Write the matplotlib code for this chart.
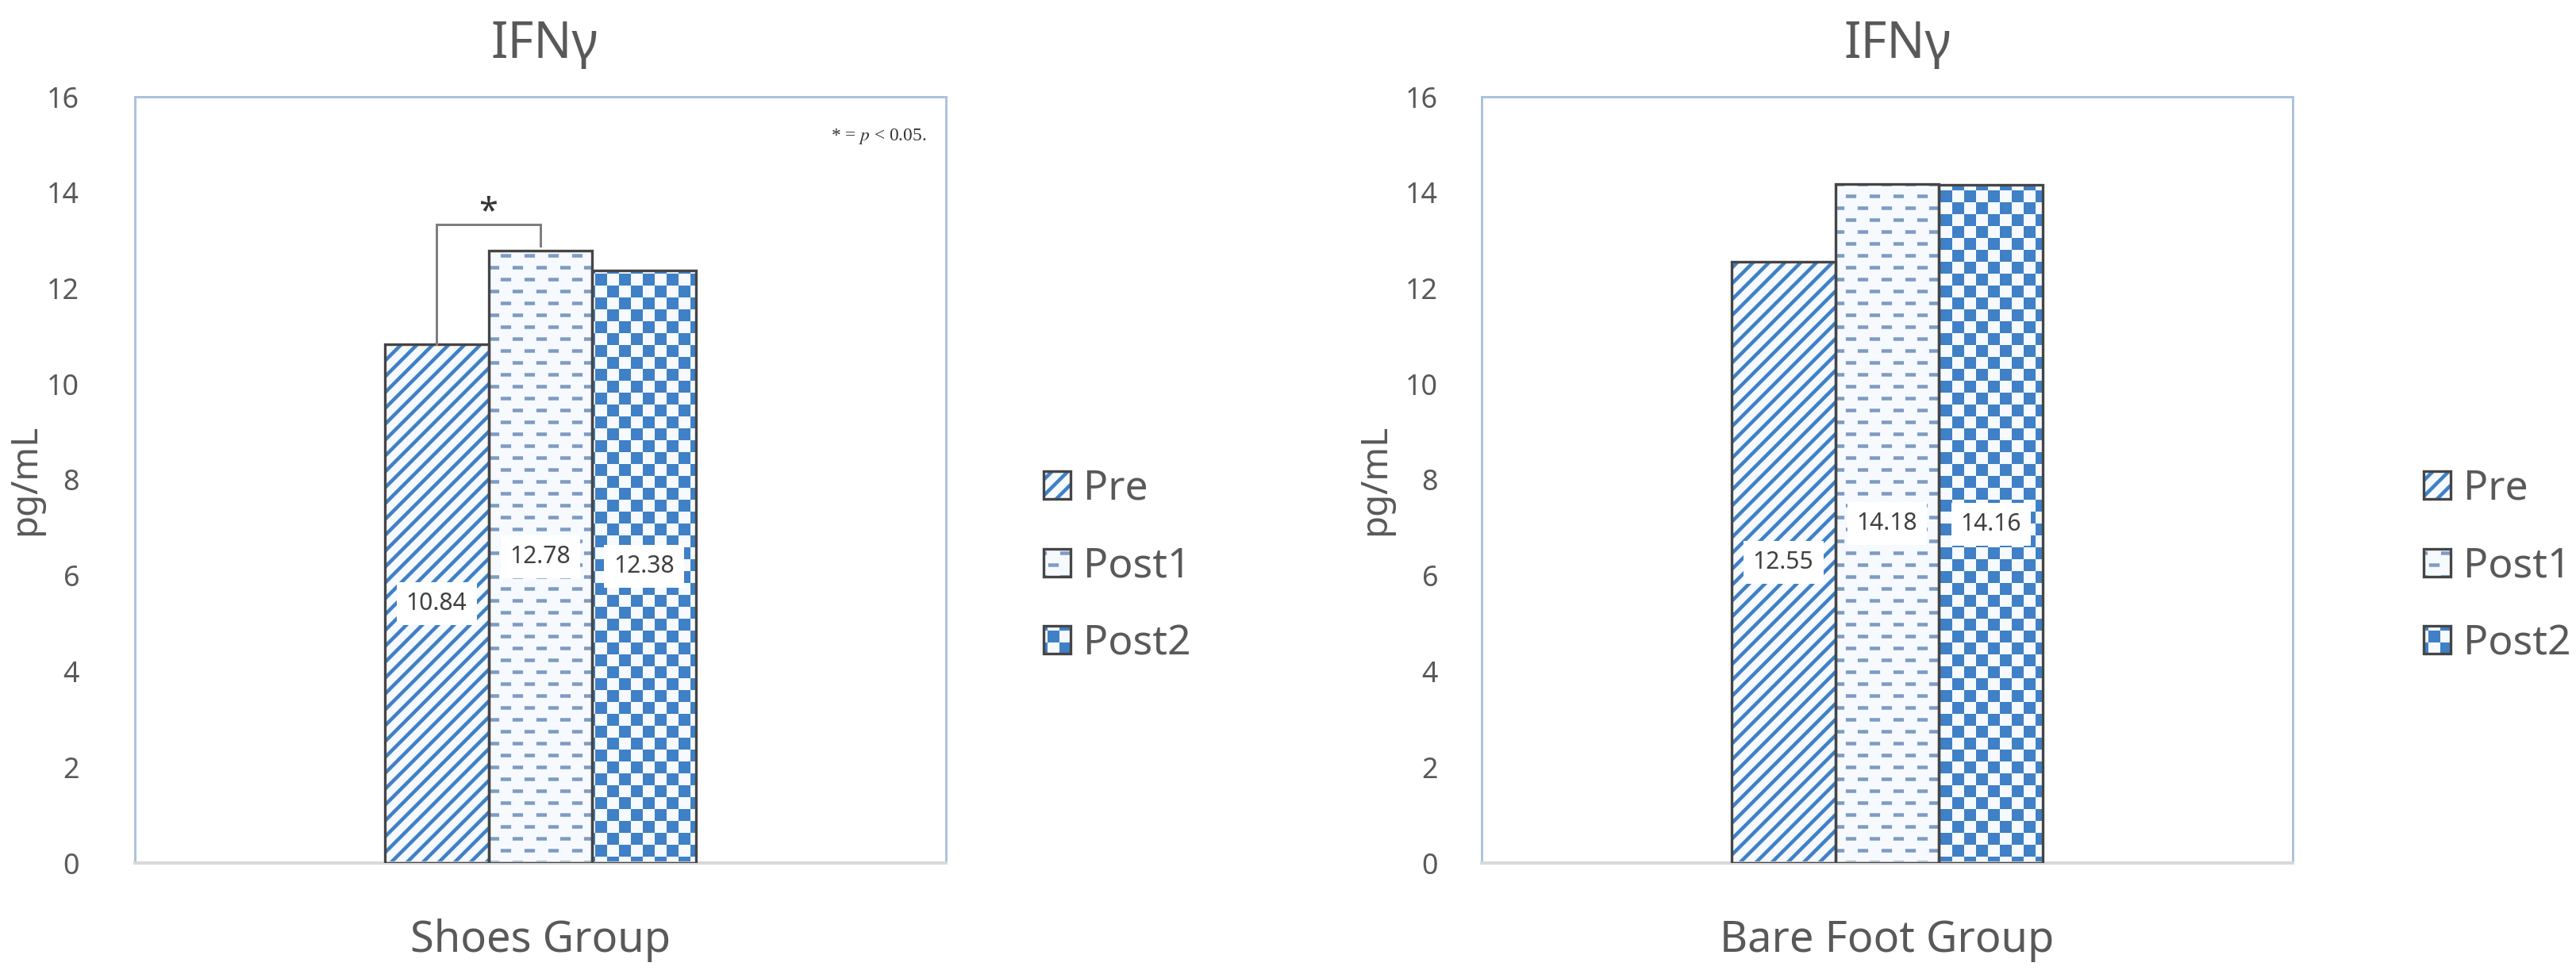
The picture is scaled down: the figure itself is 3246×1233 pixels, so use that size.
import warnings
import numpy as np
import matplotlib
matplotlib.use("Agg")
import matplotlib.pyplot as plt
from matplotlib import hatch as mhatch
from matplotlib.path import Path
from matplotlib.legend_handler import HandlerTuple

warnings.filterwarnings("ignore")

# values
series = ["Pre", "Post1", "Post2"]
groups = ["Shoes Group", "Bare Foot Group"]
shoes = [10.84, 12.78, 12.38]
bare_foot = [12.55, 14.18, 14.16]
yticks = [0, 2, 4, 6, 8, 10, 12, 14, 16]
title = "IFNγ"
ylabel = "pg/mL"
note = r"* = $p$ < 0.05."

W, H, DPI = 3246, 1233, 120
HATCH_LW = 2.7

plt.rcParams["font.family"] = ["Noto Sans", "DejaVu Sans"]
plt.rcParams["mathtext.fontset"] = "stix"
plt.rcParams["hatch.linewidth"] = HATCH_LW


# extra hatch patterns: denser diagonals ('n'), small checkerboard ('c'),
# staggered dashes ('d')
class StripeHatch(mhatch.HatchPatternBase):
    n = 6

    def __init__(self, hatch, density):
        self.on = "n" in hatch
        self.num_vertices = (2 * self.n + 1) * 2 if self.on else 0

    def set_vertices_and_codes(self, vertices, codes):
        c = np.arange(-self.n, self.n + 1) / self.n
        vertices[0::2, 0] = -0.1
        vertices[0::2, 1] = -0.1 - c
        vertices[1::2, 0] = 1.1
        vertices[1::2, 1] = 1.1 - c
        codes[0::2] = Path.MOVETO
        codes[1::2] = Path.LINETO


class CheckerHatch(mhatch.HatchPatternBase):
    n = 8

    def __init__(self, hatch, density):
        self.on = "c" in hatch
        self.num_vertices = (self.n * self.n // 2) * 5 if self.on else 0

    def set_vertices_and_codes(self, vertices, codes):
        s = 1.0 / self.n
        d = HATCH_LW / 144.0
        pts = []
        for i in range(self.n):
            for j in range(self.n):
                if (i + j) % 2 == 0:
                    x0, y0 = j * s + d, i * s + d
                    x1, y1 = (j + 1) * s - d, (i + 1) * s - d
                    pts += [(x0, y0), (x1, y0), (x1, y1), (x0, y1), (x0, y0)]
        vertices[:] = pts
        codes[:] = [Path.MOVETO, Path.LINETO, Path.LINETO, Path.LINETO,
                    Path.CLOSEPOLY] * (len(pts) // 5)


class DashHatch(mhatch.HatchPatternBase):
    rows, cols, dash = 8, 4, 0.11

    def __init__(self, hatch, density):
        self.on = "d" in hatch
        self.num_vertices = self.rows * self.cols * 2 if self.on else 0

    def set_vertices_and_codes(self, vertices, codes):
        half = (self.dash - HATCH_LW / 72.0) / 2
        pts = []
        for r in range(self.rows):
            y = (r + 0.5) / self.rows
            for c in range(self.cols):
                xc = (c + 0.25 + 0.5 * (r % 2)) / self.cols
                pts += [(xc - half, y), (xc + half, y)]
        vertices[:] = pts
        codes[:] = [Path.MOVETO, Path.LINETO] * (len(pts) // 2)


mhatch._hatch_types.extend([StripeHatch, CheckerHatch, DashHatch])

hatches = ["n", "d", "c"]
hatch_colors = ["#3f80c6", "#7f9bc2", "#3f80c6"]
face = "#f6faff"
edge = "#454545"
txt = "#595959"

fig = plt.figure(figsize=(W / DPI, H / DPI), dpi=DPI)

# left edge of axes, legend x, y-label x, tick pad, title x
panels = [
    (shoes, groups[0], 170, 1315, -0.112, 42, 0.505),
    (bare_foot, groups[1], 1867, 3054, -0.108, 33, 0.513),
]
width = 0.128
offsets = (np.arange(len(series)) - 1) * width

for p, (vals, group, left, leg_x, ylab_x, ypad, tx) in enumerate(panels):
    ax = fig.add_axes([left / W, 1 - 1088 / H, 1022 / W, 966 / H])
    handles = []
    for k in range(len(series)):
        hb = ax.bar(offsets[k], vals[k], width, color=face, edgecolor=hatch_colors[k],
                    hatch=hatches[k], linewidth=0, zorder=2)
        ob = ax.bar(offsets[k], vals[k], width, fill=False, edgecolor=edge,
                    linewidth=2.0, zorder=3)
        handles.append((hb.patches[0], ob.patches[0]))
        ax.text(offsets[k], vals[k] / 2, f"{vals[k]:.2f}", ha="center", va="center",
                fontsize=18, color="#404040", zorder=4,
                bbox=dict(boxstyle="square,pad=0.4", fc="white", ec="none"))

    ax.set_xlim(-0.5, 0.5)
    ax.set_ylim(0, 16)
    ax.set_yticks(yticks)
    ax.set_xticks([0])
    ax.set_xticklabels([group])
    ax.tick_params(axis="y", length=0, pad=ypad, labelsize=21.5, labelcolor=txt)
    ax.tick_params(axis="x", length=0, pad=42, labelsize=32.5, labelcolor=txt)
    for s in ["top", "left", "right"]:
        ax.spines[s].set_color("#adc2de")
        ax.spines[s].set_linewidth(1.8)
    ax.spines["bottom"].set_color("#d9d9d9")
    ax.spines["bottom"].set_linewidth(2.5)

    ax.set_title(title, fontsize=38, color=txt, pad=29.4, x=tx)
    ax.set_ylabel(ylabel, fontsize=27.5, color=txt)
    ax.yaxis.set_label_coords(ylab_x, 0.5)

    ax.legend(handles, series, handler_map={tuple: HandlerTuple(ndivide=1)},
              loc="center left", bbox_to_anchor=(leg_x / W, 1 - 714 / H),
              bbox_transform=fig.transFigure, frameon=False, fontsize=31,
              labelcolor=txt, borderpad=0, borderaxespad=0,
              handlelength=0.66, handleheight=0.66, handletextpad=0.3,
              labelspacing=0.9)

    if p == 0:
        # significance bracket between Pre and Post1
        top = max(vals[0], vals[1]) + 0.55
        ax.plot([offsets[0], offsets[0], offsets[1], offsets[1]],
                [vals[0], top, top, vals[1] + 0.1],
                color="#7f7f7f", lw=1.8, zorder=3, solid_joinstyle="miter")
        ax.text((offsets[0] + offsets[1]) / 2, top - 0.12, "*", ha="center",
                va="bottom", fontsize=26, color="#333333")
        ax.text(0.976, 0.948, note, transform=ax.transAxes, ha="right", va="center",
                fontsize=14, family="Liberation Serif", color="#333333")

fig.savefig("out.png", dpi=DPI)
